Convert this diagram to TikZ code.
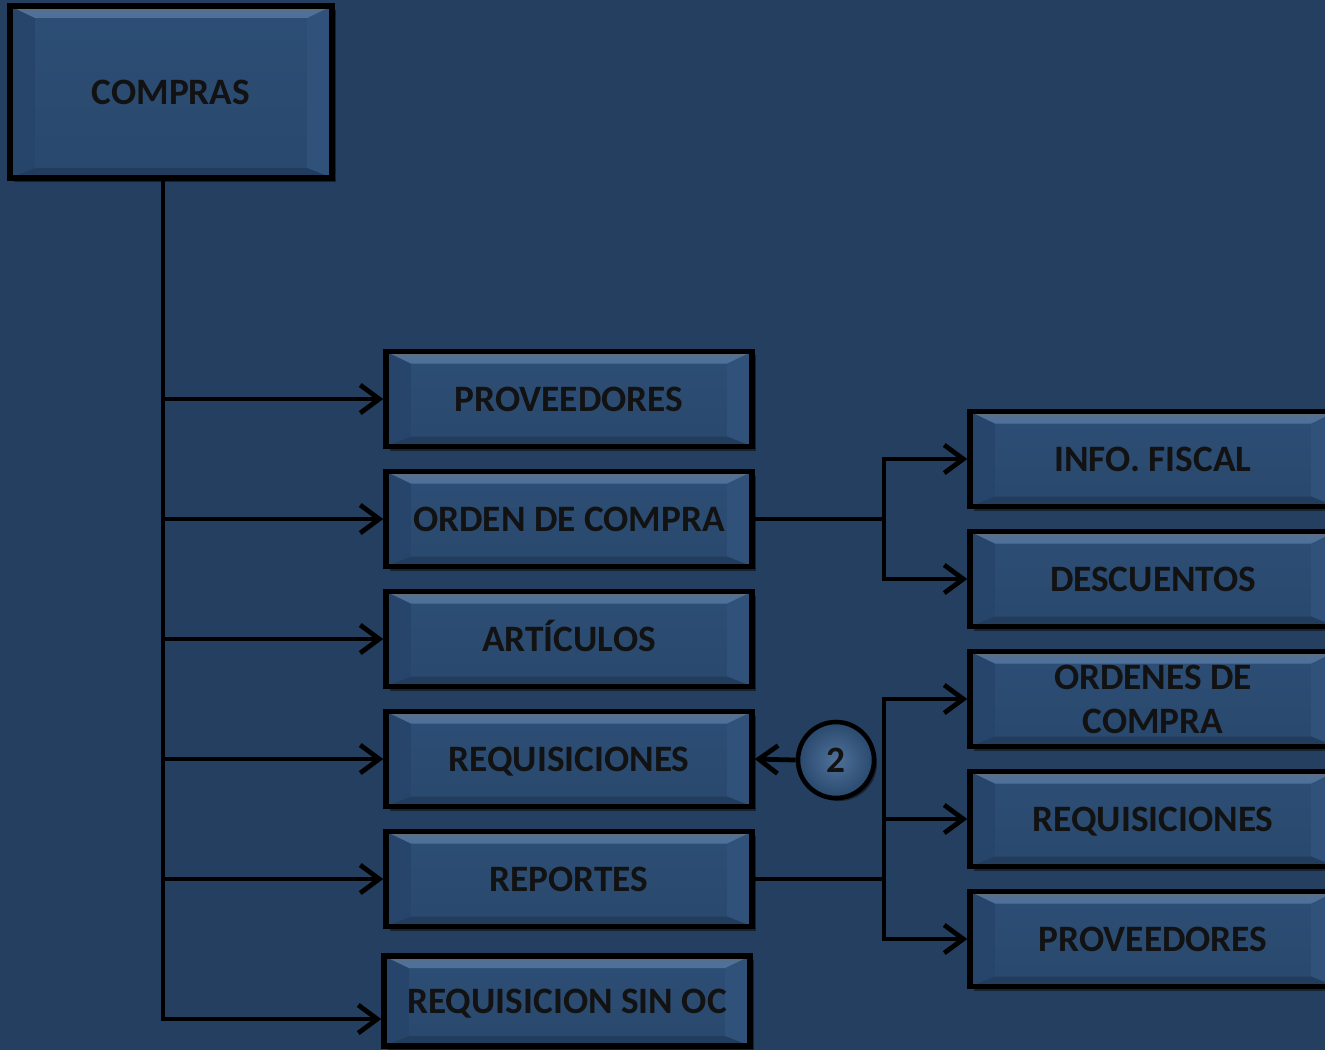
\documentclass[tikz,border=0pt]{standalone}
\usepackage{fontspec}
\setmainfont{Carlito}
\usepackage{tikz}
\usetikzlibrary{arrows.meta,calc,shadows}

\definecolor{fondo}{HTML}{253F60}
\definecolor{cara}{HTML}{29486D}
\definecolor{caraalta}{HTML}{2D4E75}
\definecolor{bisgris}{HTML}{6A6A6A}
\definecolor{bisclaro}{HTML}{4F7199}
\definecolor{bisosc}{HTML}{213C5C}
\definecolor{bisizq}{HTML}{27456A}
\definecolor{bisder}{HTML}{30527A}
\definecolor{letra}{HTML}{121212}

\tikzset{
  caja/.style={draw=black, line width=1.5pt, top color=caraalta, bottom color=cara,
    minimum width=3.66cm, minimum height=0.95cm, inner sep=0pt, align=center,
    text height=7pt, text depth=0pt,
    font=\fontsize{10.6}{12.6}\selectfont\bfseries, text=letra,
    drop shadow={shadow xshift=0.04cm, shadow yshift=-0.04cm, opacity=0.45, fill=black},
    path picture={
      \fill[bisizq] (path picture bounding box.north west) -- ++(0.25cm,-0.12cm)
        -- ($(path picture bounding box.south west)+(0.25cm,0.1cm)$)
        -- (path picture bounding box.south west) -- cycle;
      \fill[bisder] (path picture bounding box.north east) -- ++(-0.25cm,-0.12cm)
        -- ($(path picture bounding box.south east)+(-0.25cm,0.1cm)$)
        -- (path picture bounding box.south east) -- cycle;
      \fill[bisosc] (path picture bounding box.south west) -- ++(0.25cm,0.1cm)
        -- ($(path picture bounding box.south east)+(-0.25cm,0.1cm)$)
        -- (path picture bounding box.south east) -- cycle;
      \shade[top color=bisgris, bottom color=bisclaro, middle color=bisclaro] (path picture bounding box.north west) -- ++(0.25cm,-0.12cm)
        -- ($(path picture bounding box.north east)+(-0.25cm,-0.12cm)$)
        -- (path picture bounding box.north east) -- cycle;
    }},
  circulo/.style={circle, draw=black, line width=1.3pt, minimum size=0.76cm, inner sep=0pt,
    inner color=bisclaro, outer color=cara, font=\fontsize{10.6}{12.6}\selectfont\bfseries, text=letra,
    drop shadow={shadow xshift=0.03cm, shadow yshift=-0.03cm, opacity=0.45, fill=black}},
  flecha/.style={draw=black, line width=1.35pt, -{Straight Barb[length=1.9mm, width=2.8mm]}},
  linea/.style={draw=black, line width=1.35pt}
}

\begin{document}
\begin{tikzpicture}[x=0.01cm, y=-0.01cm]
	\fill[fondo] (0,0) rectangle (1325,1050);
	\clip (0,0) rectangle (1325,1050);
	%\draw [help lines, step=100] (0,0) grid (1325,1050);
	\node[caja, minimum width=3.22cm, minimum height=1.72cm] (compras) at (171,92) {COMPRAS};

	\node[caja] (prov) at (569,399) {PROVEEDORES};
	\node[caja] (orden) at (569,519) {ORDEN DE COMPRA};
	\node[caja] (art) at (569,639) {ARTÍCULOS};
	\node[caja] (req) at (569,759) {REQUISICIONES};
	\node[caja] (rep) at (569,879) {REPORTES};
	\node[caja, minimum height=0.9cm] (sinoc) at (567,1001) {REQUISICION SIN OC};

	\node[caja] (fiscal) at (1153,459) {INFO. FISCAL};
	\node[caja] (desc) at (1153,579) {DESCUENTOS};
	\node[caja, text height=19.6pt, font=\fontsize{10.6}{12.6}\selectfont\bfseries] (ordenes) at (1153,699) {ORDENES DE\\COMPRA};
	\node[caja] (req2) at (1153,819) {REQUISICIONES};
	\node[caja] (prov2) at (1153,939) {PROVEEDORES};

	\node[circulo] (dos) at (836,760) {2};

	% tronco principal
	\coordinate (tronco) at ([xshift=-0.08cm]compras.south);
	\coordinate (rama) at (884,0);
	\draw[flecha] (tronco) |- ([yshift=-0.18cm]sinoc.west);
	\foreach \n in {prov,orden,art,req,rep}
		\draw[flecha] (tronco |- \n.west) -- (\n.west);

	% orden de compra
	\draw[linea] (orden.east) -- (orden.east -| rama);
	\draw[flecha] (orden.east -| rama) |- (fiscal.west);
	\draw[flecha] (orden.east -| rama) |- (desc.west);

	% reportes
	\draw[linea] (rep.east) -- (rep.east -| rama);
	\foreach \n in {ordenes,req2,prov2}
		\draw[flecha] (rep.east -| rama) |- (\n.west);

	\draw[flecha] (dos.west) -- (req.east);
\end{tikzpicture}
\end{document}
